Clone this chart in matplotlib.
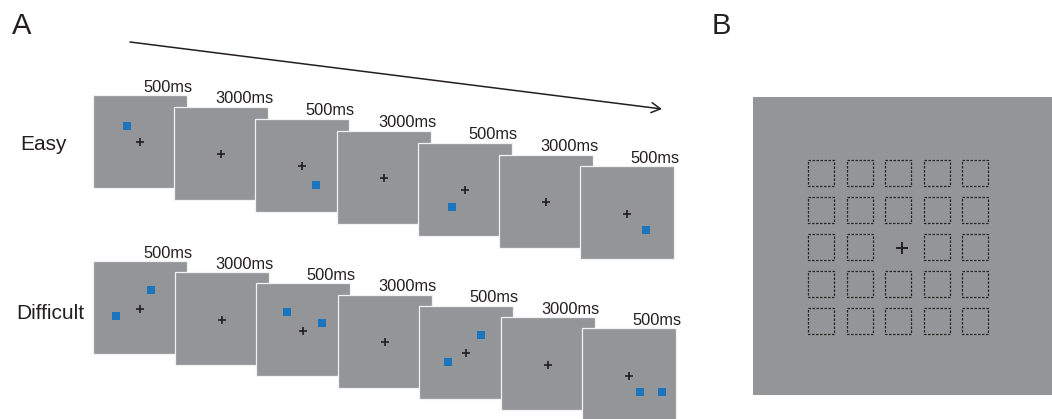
import matplotlib
matplotlib.use("Agg")
import matplotlib.pyplot as plt
from matplotlib.patches import Rectangle

plt.rcParams['font.family'] = ['Liberation Sans', 'DejaVu Sans']

# stimulus durations shown above each screen
durations = ['500ms', '3000ms', '500ms', '3000ms', '500ms', '3000ms', '500ms']
row_labels = ['Easy', 'Difficult']

# blue target offsets (px) from the fixation cross, one list per screen
easy_targets = [[(-13, -16)], [], [(14, 19)], [], [(-13, 17)], [], [(19, 16)]]
difficult_targets = [[(11, -19), (-24, 7)], [], [(-16, -19), (19, -8)], [],
                     [(15, -18), (-18, 9)], [], [(11, 16), (33, 16)]]

# panel B: 5x5 grid of possible locations, centre kept for fixation
grid_n = 5

GRAY = '#939598'
BLUE = '#1c75bc'
DARK = '#231f20'

fig = plt.figure(figsize=(10.52, 4.19), dpi=100)
ax = fig.add_axes([0, 0, 1, 1])
ax.set_xlim(0, 1052)
ax.set_ylim(419, 0)
ax.axis('off')

pw, ph = 94, 93


def draw_row(x0, y0, dx, dy, targets):
    for i, (lab, tg) in enumerate(zip(durations, targets)):
        x = x0 + i * dx
        y = y0 + i * dy
        z = 2 + 3 * i
        ax.add_patch(Rectangle((x, y), pw, ph, facecolor=GRAY,
                               edgecolor='#f2f2f2', lw=0.9, zorder=z))
        cx, cy = x + pw / 2, y + ph / 2 + 1
        ax.plot(cx, cy, marker='+', ms=6, mew=1.2, color=DARK, zorder=z + 1)
        for ox, oy in tg:
            ax.plot(cx + ox, cy + oy, marker='s', ms=5.2, mew=0, color=BLUE,
                    zorder=z + 1)
        ax.text(x + pw + 5.5, y - 3.5, lab, ha='right', va='baseline',
                fontsize=11.8, color=DARK, zorder=50)


draw_row(93, 95, 81.2, 11.9, easy_targets)
draw_row(93, 261, 81.5, 11.2, difficult_targets)

ax.text(20, 150, row_labels[0], fontsize=15, color=DARK, va='baseline')
ax.text(16, 319, row_labels[1], fontsize=15, color=DARK, va='baseline')

ax.text(12, 34, 'A', fontsize=21, color=DARK, va='baseline')
ax.text(712, 34, 'B', fontsize=21, color=DARK, va='baseline')

# time arrow
ax.annotate('', xy=(662, 109), xytext=(130, 42),
            arrowprops=dict(arrowstyle='->,head_length=0.65,head_width=0.36',
                            lw=1.1, color=DARK, shrinkA=0, shrinkB=0))

# panel B
ax.add_patch(Rectangle((753, 97), 299, 298, facecolor=GRAY, edgecolor='none',
                       zorder=2))
gx0, gy0, step, cell = 808, 159.5, 38.5, 26
for r in range(grid_n):
    for c in range(grid_n):
        if r == grid_n // 2 and c == grid_n // 2:
            continue
        ax.add_patch(Rectangle((gx0 + c * step, gy0 + r * 37), cell, cell,
                               fill=False, edgecolor='#262626', lw=0.9,
                               linestyle=(0, (2.0, 1.2)), zorder=3))
ax.plot(901.5, 247.5, marker='+', ms=9, mew=1.4, color=DARK, zorder=4)

fig.savefig('out.png', dpi=100)
